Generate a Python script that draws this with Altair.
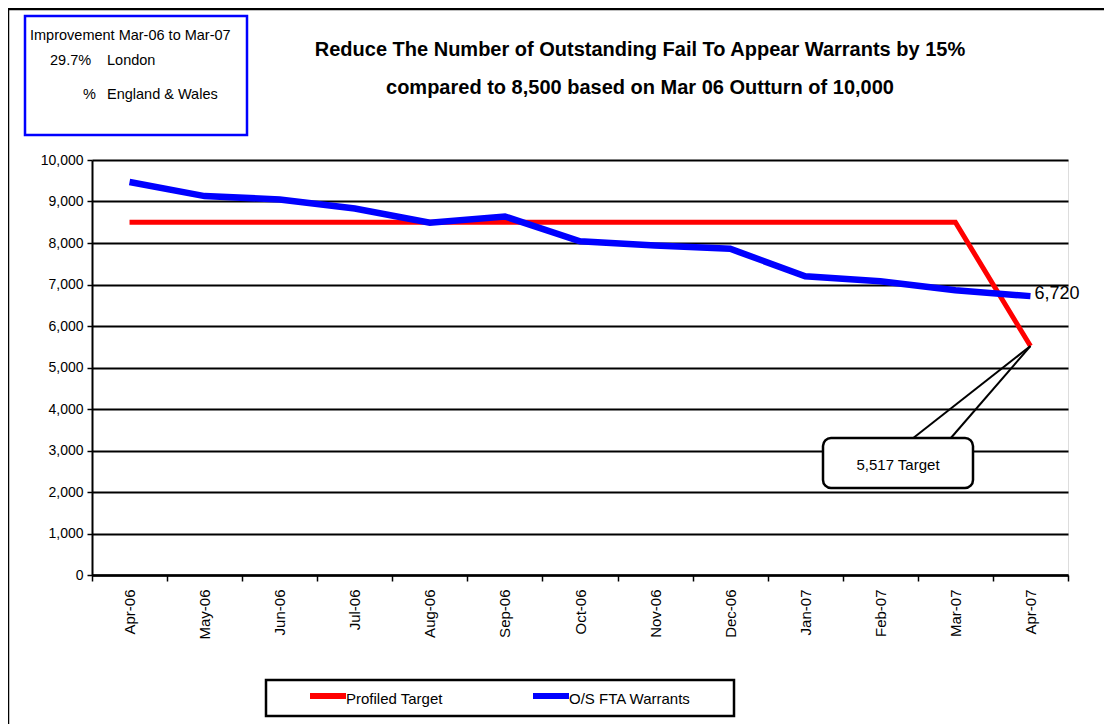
import altair as alt
import pandas as pd

months = ["Apr-06", "May-06", "Jun-06", "Jul-06", "Aug-06", "Sep-06", "Oct-06",
          "Nov-06", "Dec-06", "Jan-07", "Feb-07", "Mar-07", "Apr-07"]
profiled_target = [8500, 8500, 8500, 8500, 8500, 8500, 8500, 8500, 8500, 8500, 8500, 8500, 5517]
fta_warrants = [9470, 9130, 9050, 8830, 8490, 8640, 8040, 7940, 7860, 7200, 7080, 6860, 6720]
series_names = ["Profiled Target", "O/S FTA Warrants"]
y_ticks = [0, 1000, 2000, 3000, 4000, 5000, 6000, 7000, 8000, 9000, 10000]

red_df = pd.DataFrame({"month": months, "value": profiled_target, "series": series_names[0]})
blue_df = pd.DataFrame({"month": months, "value": fta_warrants, "series": series_names[1]})
end_red = red_df.iloc[[-1]]
end_blue = blue_df.iloc[[-1]]

NARROW = "Liberation Sans Narrow, Arial Narrow, Liberation Sans, sans-serif"
W, H = 976, 415

xenc = alt.X("month:N", sort=months, bandPosition=0.5,
             scale=alt.Scale(type="band", domain=months, paddingInner=0, paddingOuter=0),
             axis=alt.Axis(title=None, labelAngle=270, labelAlign="right", labelBaseline="middle",
                           labelPadding=8, tickBand="extent", tickSize=6, tickColor="black",
                           tickWidth=1.5, domainColor="black", domainWidth=2.5, grid=False,
                           labelFont=NARROW, labelFontSize=15, labelColor="black"))
yenc = alt.Y("value:Q", scale=alt.Scale(domain=[0, 10000], nice=False),
             axis=alt.Axis(title=None, values=y_ticks, format=",.0f", tickSize=5, tickColor="black",
                           tickWidth=1.5, domainColor="black", domainWidth=2,
                           gridColor="black", gridWidth=2, labelPadding=4,
                           labelFont=NARROW, labelFontSize=14, labelColor="black"))
color = alt.Color("series:N", scale=alt.Scale(domain=series_names, range=["#FF0000", "#0000FF"]),
                  legend=None)


def txt(s, x, y, size=14, weight="normal", align="left"):
    return alt.Chart(pd.DataFrame({"t": [s]})).mark_text(
        font=NARROW, fontSize=size, fontWeight=weight, align=align, baseline="middle",
        color="black").encode(x=alt.value(x), y=alt.value(y), text="t:N")


def box(x, y, x2, y2, stroke, width=2, fill=None, radius=0):
    kw = dict(stroke=stroke, strokeWidth=width, cornerRadius=radius)
    if fill:
        kw["fill"] = fill
    else:
        kw["filled"] = False
    return alt.Chart(pd.DataFrame({"a": [0]})).mark_rect(**kw).encode(
        x=alt.value(x), x2=alt.value(x2), y=alt.value(y), y2=alt.value(y2))


ox, oy = 92, 160  # page position of the plot origin

frame = box(8 - ox, 9 - oy, 1140 - ox, 760 - oy, "black", width=2.5)
info_box = box(25 - ox, 16 - oy, 247 - ox, 135 - oy, "#0000FF", width=2.5)
info = [
    txt("Improvement Mar-06 to Mar-07", 30 - ox, 36 - oy, 14.5),
    txt("29.7%", 50 - ox, 61 - oy, 14.5),
    txt("London", 107 - ox, 61 - oy, 14.5),
    txt("%", 83 - ox, 95 - oy, 14.5),
    txt("England & Wales", 107 - ox, 95 - oy, 14.5),
]
title = [
    txt("Reduce The Number of Outstanding Fail To Appear Warrants by 15%", 640 - ox, 50 - oy, 20,
        "bold", "center"),
    txt("compared to 8,500 based on Mar 06 Outturn of 10,000", 640 - ox, 88 - oy, 20,
        "bold", "center"),
]

red_line = alt.Chart(red_df).mark_line(strokeWidth=5).encode(x=xenc, y=yenc, color=color)
blue_line = alt.Chart(blue_df).mark_line(strokeWidth=6.5).encode(x=xenc, y=yenc, color=color)

end_label = alt.Chart(end_blue).mark_text(align="left", baseline="middle", dx=4, dy=-2,
                                          font=NARROW, fontSize=18, color="black").encode(
    x=xenc, y=yenc, text=alt.Text("value:Q", format=",.0f"))

pointer1 = alt.Chart(end_red).mark_rule(color="black", strokeWidth=2).encode(
    x=xenc, y=yenc, x2=alt.value(912 - ox), y2=alt.value(439 - oy))
pointer2 = alt.Chart(end_red).mark_rule(color="black", strokeWidth=2).encode(
    x=xenc, y=yenc, x2=alt.value(950 - ox), y2=alt.value(439 - oy))
callout = box(823 - ox, 438 - oy, 973 - ox, 488 - oy, "black", width=2.5, fill="white", radius=8)
callout_text = alt.Chart(end_red).transform_calculate(
    label="format(datum.value, ',.0f') + ' Target'"
).mark_text(font=NARROW, fontSize=15, color="black", baseline="middle", align="center").encode(
    x=alt.value(898 - ox), y=alt.value(465 - oy), text="label:N")

legend_box = box(266 - ox, 680 - oy, 734 - ox, 716 - oy, "black", width=2.5)
legend_items = [
    alt.Chart(pd.DataFrame({"a": [0]})).mark_rule(color="#FF0000", strokeWidth=6).encode(
        x=alt.value(310 - ox), x2=alt.value(346 - ox), y=alt.value(696 - oy)),
    alt.Chart(pd.DataFrame({"a": [0]})).mark_rule(color="#0000FF", strokeWidth=6).encode(
        x=alt.value(533 - ox), x2=alt.value(569 - ox), y=alt.value(696 - oy)),
    txt(series_names[0], 346 - ox, 699 - oy, 15),
    txt(series_names[1], 569 - ox, 699 - oy, 15),
]

chart = alt.layer(
    frame, info_box, *info, *title,
    red_line, blue_line, end_label,
    pointer1, pointer2, callout, callout_text,
    legend_box, *legend_items,
).properties(
    width=W, height=H,
    autosize=alt.AutoSizeParams(type="none"),
    padding={"left": ox - 8, "top": oy - 8, "right": 36, "bottom": 716 - (oy - 8) - H},
).configure_view(stroke="#999999", strokeWidth=1.5).configure(background="white")

chart.save("out.html", embed_options={"renderer": "svg", "actions": False})
